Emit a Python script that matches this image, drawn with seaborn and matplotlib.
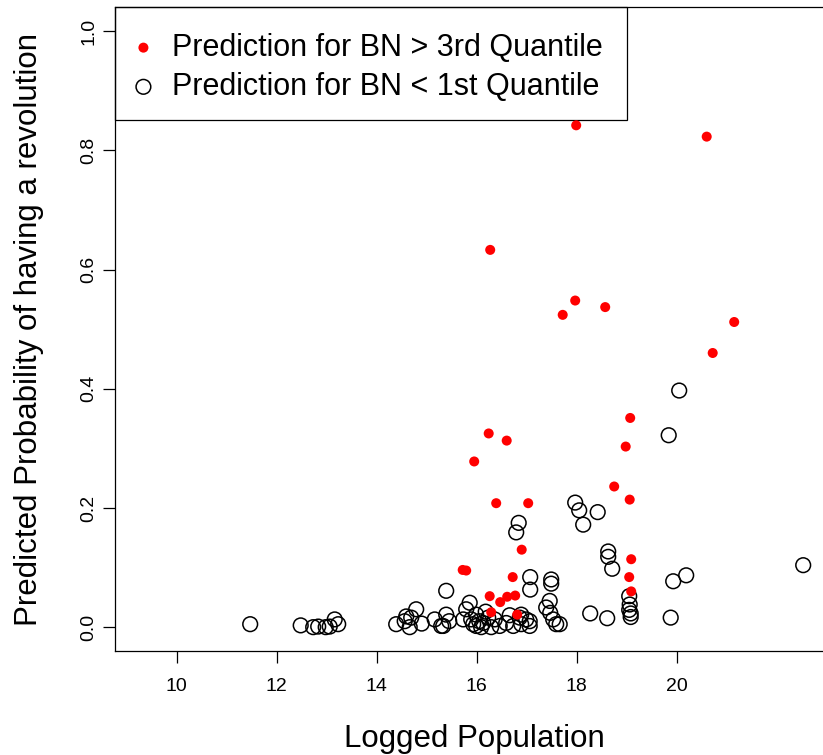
import numpy as np
import pandas as pd
import matplotlib
matplotlib.use("Agg")
import matplotlib.pyplot as plt
import matplotlib.patches as mpatches
import seaborn as sns

# ---- data ----
high_x = [17.99, 20.60, 16.27, 17.97, 17.72, 18.57, 21.15, 20.72, 19.07, 16.24,
          16.60, 15.95, 18.98, 18.75, 19.06, 16.39, 17.03, 16.90, 19.09, 15.72,
          15.79, 16.72, 19.05, 19.09, 16.26, 16.61, 16.77, 16.47, 16.29, 16.81]
high_y = [0.842, 0.823, 0.633, 0.548, 0.524, 0.537, 0.512, 0.460, 0.351, 0.325,
          0.313, 0.278, 0.303, 0.236, 0.214, 0.208, 0.208, 0.130, 0.114, 0.096,
          0.095, 0.084, 0.084, 0.060, 0.052, 0.051, 0.053, 0.042, 0.025, 0.021]

low_x = [20.05, 19.84, 17.97, 18.05, 18.42, 18.13, 16.84, 16.79, 18.63, 18.63,
         18.71, 17.07, 17.07, 17.49, 17.49, 19.93, 20.19, 22.53, 15.39,
         17.46, 17.39, 17.47, 17.53, 17.59, 17.66,
         18.27, 18.61, 19.05, 19.06, 19.05, 19.08, 19.08, 19.88,
         11.47, 12.48, 12.73, 12.83, 12.98, 13.06, 13.16, 13.23,
         14.39, 14.56, 14.59, 14.69, 14.66, 14.79, 14.90,
         15.16, 15.29, 15.39, 15.33, 15.45,
         15.73, 15.79, 15.86, 15.89, 15.99, 15.93, 15.99, 16.09, 16.13, 16.23,
         16.29, 16.18, 16.05,
         16.46, 16.59, 16.73, 16.86, 16.89, 16.99, 17.06, 17.06, 16.89, 16.36, 16.66]
low_y = [0.397, 0.322, 0.209, 0.196, 0.193, 0.172, 0.175, 0.159, 0.127, 0.118,
         0.098, 0.084, 0.063, 0.080, 0.073, 0.077, 0.087, 0.104, 0.061,
         0.044, 0.033, 0.024, 0.013, 0.005, 0.005,
         0.023, 0.015, 0.052, 0.038, 0.029, 0.023, 0.017, 0.016,
         0.005, 0.003, 0.000, 0.001, 0.000, 0.001, 0.013, 0.005,
         0.005, 0.010, 0.018, 0.016, 0.000, 0.030, 0.006,
         0.013, 0.002, 0.021, 0.002, 0.010,
         0.013, 0.030, 0.041, 0.013, 0.002, 0.005, 0.021, 0.000, 0.007, 0.016,
         0.000, 0.026, 0.010,
         0.002, 0.007, 0.002, 0.016, 0.005, 0.013, 0.002, 0.010, 0.021, 0.013, 0.020]

x_ticks = [10, 12, 14, 16, 18, 20]
y_ticks = [0.0, 0.2, 0.4, 0.6, 0.8, 1.0]
legend_labels = ["Prediction for BN > 3rd Quantile", "Prediction for BN < 1st Quantile"]
x_label = "Logged Population"
y_label = "Predicted Probability of having a revolution"

plt.rcParams["font.family"] = ["Liberation Sans", "DejaVu Sans"]

fig = plt.figure(figsize=(8.23, 7.55), dpi=100)
W, H = 823, 755
ax = fig.add_axes([115 / W, 104 / H, 711 / W, 643.7 / H])

low_df = pd.DataFrame({"x": low_x, "y": low_y})
high_df = pd.DataFrame({"x": high_x, "y": high_y})

sns.scatterplot(data=low_df, x="x", y="y", ax=ax, marker="o", s=112,
                facecolors="none", edgecolor="black", linewidth=1.1, zorder=2)
sns.scatterplot(data=high_df, x="x", y="y", ax=ax, marker="o", s=52,
                color="#ff0000", edgecolor="none", linewidth=0, zorder=3)

ax.set_xlim(8.766, 22.986)
ax.set_ylim(-0.04, 1.04)
ax.set_xticks(x_ticks)
ax.set_xticklabels([str(t) for t in x_ticks])
ax.set_yticks(y_ticks)
ax.set_yticklabels([f"{t:.1f}" for t in y_ticks], rotation=90, va="center")

ax.tick_params(axis="both", direction="out", length=8.6, width=0.9,
               color="black", labelsize=14)
ax.tick_params(axis="x", pad=11)
ax.tick_params(axis="y", pad=4)
for s in ax.spines.values():
    s.set_color("black")
    s.set_linewidth(0.9)

ax.set_xlabel(x_label, fontsize=22.5)
ax.set_ylabel(y_label, fontsize=22.5)
ax.xaxis.label.set_va("center")
ax.yaxis.label.set_va("center")
ax.xaxis.set_label_coords(0.505, (16 - 104) / 643.7)
ax.yaxis.set_label_coords((29 - 115) / 711, 0.5)

# legend frame (R-style box in the top-left corner)
frame = mpatches.Rectangle((115 / W, (H - 119.5) / H), (627 - 115) / W, (119.5 - 7.3) / H,
                           transform=fig.transFigure, facecolor="white",
                           edgecolor="black", linewidth=0.9, zorder=1.5, clip_on=False)
ax.add_patch(frame)

handles = [ax.collections[1], ax.collections[0]]
leg = ax.legend(handles, legend_labels, loc="upper left", bbox_to_anchor=(0, 1),
                borderaxespad=0, fontsize=22, frameon=False, borderpad=0.83,
                handlelength=0.2, handletextpad=0.85, labelspacing=0.3,
                scatterpoints=1)
leg.set_zorder(5)

fig.savefig("out.png", dpi=100)
